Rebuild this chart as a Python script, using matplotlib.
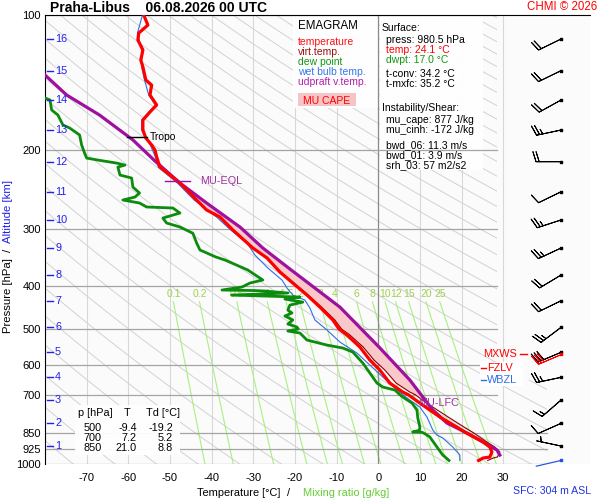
import numpy as np
import matplotlib.pyplot as plt
from matplotlib.patches import Polygon, Rectangle
from matplotlib.ticker import NullLocator

plt.rcParams['font.family'] = ['Liberation Sans', 'DejaVu Sans']

station = 'Praha-Libus'
run_time = '06.08.2026 00 UTC'

# ---- sounding values ----
temp_p = [100.0, 105.3, 109.7, 113.7, 119.6, 126.0, 130.5, 139.5, 143.2, 150.7,
          158.6, 164.4, 171.3, 180.3, 187.8, 194.7, 199.8, 207.0, 218.0, 227.1,
          236.6, 258.1, 271.6, 281.6, 301.0, 330.1, 347.4, 373.3, 395.0, 420.1,
          446.8, 477.3, 500.0, 515.5, 548.3, 586.1, 617.0, 659.5, 690.6, 700.0,
          730.6, 784.8, 826.1, 850.0, 892.1, 915.3, 939.0, 963.5, 968.3, 980.5]
temp_t = [-56.3, -55.3, -57.5, -57.7, -56.5, -57.0, -56.5, -55.8, -54.4, -54.8,
          -53.2, -54.8, -56.5, -56.5, -55.8, -54.4, -53.6, -53.2, -52.4, -50.0,
          -47.6, -43.6, -41.2, -38.0, -34.9, -30.1, -26.7, -23.6, -20.5, -17.1,
          -14.0, -10.9, -9.4, -7.5, -4.4, -2.0, 0.4, 2.8, 5.9, 7.2,
          10.0, 14.8, 18.9, 21.0, 25.2, 26.8, 27.3, 26.8, 25.2, 24.1]
virt_t = [-56.2, -55.2, -57.4, -57.6, -56.4, -56.9, -56.4, -55.7, -54.3, -54.7,
          -53.1, -54.7, -56.4, -56.4, -55.7, -54.3, -53.5, -53.1, -52.3, -49.9,
          -47.5, -43.5, -41.1, -37.9, -34.8, -29.9, -26.5, -23.4, -20.2, -16.8,
          -13.6, -10.4, -8.8, -6.8, -3.6, -1.0, 1.6, 4.3, 7.6, 8.9,
          11.6, 16.8, 20.6, 22.8, 26.1, 28.0, 29.2, 28.6, 27.6, 26.3]

dwpt_p = [153.0, 154.6, 162.7, 167.0, 175.7, 178.4, 184.9, 194.7, 202.9, 208.2,
          210.3, 213.6, 215.8, 218.0, 227.1, 230.6, 241.5, 249.0, 254.2, 258.1,
          262.1, 267.5, 268.9, 275.9, 283.1, 290.4, 296.4, 306.0, 321.7, 333.4,
          345.6, 351.0, 369.5, 388.9, 395.0, 403.1, 409.4, 410.5, 411.5, 415.7,
          420.1, 424.4, 428.8, 435.5, 442.2, 453.7, 460.5, 467.7, 477.3, 487.3,
          494.9, 500.0, 505.1, 510.3, 529.0, 542.8, 551.1, 562.6, 595.2, 626.5,
          659.5, 673.0, 683.5, 700.0, 708.5, 730.6, 757.1, 788.8, 826.1, 840.0,
          847.4, 848.5, 855.0, 869.5, 915.3, 953.6, 980.5]
dwpt_t = [-80.0, -78.8, -78.4, -76.9, -75.7, -74.1, -71.7, -71.2, -70.5, -70.0,
          -67.3, -62.8, -60.8, -62.5, -62.0, -59.2, -58.9, -57.3, -58.4, -61.3,
          -57.3, -55.6, -49.3, -47.6, -51.7, -50.8, -47.6, -44.5, -43.6, -42.8,
          -39.0, -36.8, -31.3, -27.7, -30.8, -32.7, -37.5, -29.6, -27.2, -21.7,
          -35.2, -18.8, -22.4, -18.1, -21.2, -21.7, -20.7, -22.4, -20.5, -21.7,
          -19.5, -19.2, -21.7, -18.8, -17.1, -12.3, -8.5, -6.1, -3.7, -2.0,
          -0.3, 1.1, 4.0, 5.2, 5.9, 8.1, 9.3, 9.5, 10.0, 9.9,
          8.3, 10.5, 11.2, 12.4, 14.1, 15.5, 17.0]

wetb_p = [100.0, 109.7, 119.6, 130.5, 139.5, 150.7, 158.6, 171.3, 180.3, 194.7,
          207.0, 218.0, 236.6, 258.1, 281.6, 301.0, 321.7, 342.1, 365.7, 388.9,
          405.2, 420.1, 431.0, 449.0, 477.3, 502.5, 534.4, 565.5, 601.3, 639.5,
          683.5, 719.4, 745.7, 784.8, 838.7, 860.6, 874.0, 915.3, 953.6, 980.5]
wetb_t = [-56.6, -57.8, -56.8, -56.8, -56.1, -55.1, -53.5, -56.8, -56.8, -54.7,
          -53.5, -52.8, -48.2, -44.2, -38.8, -35.4, -31.5, -29.6, -26.5, -23.1,
          -21.9, -20.5, -17.6, -16.4, -15.2, -12.3, -9.2, -5.1, -2.0, 1.1,
          4.5, 7.6, 10.0, 11.7, 13.1, 14.1, 15.5, 17.9, 19.6, 19.6]

# MU parcel (updraft virtual temperature)
parc_p = [136.0, 150.7, 167.0, 189.7, 211.3, 236.6, 262.1, 296.4, 330.1, 367.6,
          446.8, 548.3, 649.4, 757.1, 809.3, 851.8, 892.1, 929.5, 953.6]
parc_t = [-80.0, -74.8, -66.9, -58.9, -53.6, -47.6, -41.2, -33.2, -27.7, -21.2,
          -9.2, 0.2, 7.6, 13.1, 16.5, 21.3, 25.2, 28.5, 29.2]

eql_p, lfc_p = 234.2, 730.6
tropo_p = 186.8
fzlv_p, wbzl_p, mxws_p = 610.6, 649.4, 568.4

# wind profile at altitude levels
km_levels = [16, 15, 14, 13, 12, 11, 10, 9, 8, 7, 6, 5, 4, 3, 2, 1]
km_press = [113.1, 133.0, 154.6, 180.3, 212.1, 247.4, 285.9, 330.1, 379.1, 432.5,
            495.7, 563.3, 640.4, 719.4, 810.6, 910.7]
wind_dir = [244, 244, 241, 258, 270, 244, 252, 245, 239, 244, 233, 247, 258, 229, 246, 282]
wind_spd = [20, 20, 20, 25, 20, 10, 25, 25, 20, 20, 25, 30, 25, 15, 10, 5]
mxws_dir, mxws_spd = 247, 30
sfc_p, sfc_dir = 980.5, 257

p_ticks = [100, 200, 300, 400, 500, 600, 700, 850, 925, 1000]
t_ticks = [-70, -60, -50, -40, -30, -20, -10, 0, 10, 20, 30]
mix_ratios = [0.1, 0.2, 0.5, 1, 1.5, 2, 3, 4, 6, 8, 10, 12, 15, 20, 25]

table_p = [500, 700, 850]
table_t = [-9.4, 7.2, 21.0]
table_td = [-19.2, 5.2, 8.8]

surface_lines = [("press: 980.5 hPa", 'black'), ("temp: 24.1 °C", 'red'),
                 ("dwpt: 17.0 °C", '#119911')]
conv_lines = ["t-conv: 34.2 °C", "t-mxfc: 35.2 °C"]
inst_lines = ["mu_cape: 877 J/kg", "mu_cinh: -172 J/kg"]
shear_lines = ["bwd_06: 11.3 m/s", "bwd_01: 3.9 m/s", "srh_03: 57 m2/s2"]
legend_items = [("temperature", '#ff1010'), ("virt.temp.", '#9a1010'),
                ("dew point", '#119911'), ("wet bulb temp.", '#3377ee'),
                ("udpraft v.temp.", '#b020b0')]

RED = '#ff0000'
GREEN = '#0c8c0c'
BLUE_KM = '#2020f0'
PURPLE = '#a010a0'
MIXCOL = '#a8f080'

W, H = 600, 500
fig = plt.figure(figsize=(6, 5), dpi=100)
ax = fig.add_axes([45 / W, 1 - 464.3 / H, 545 / W, 449.3 / H])
ax.set_facecolor('#fbfbfb')
ax.set_yscale('log')
ax.set_ylim(1000, 100)
ax.set_xlim(-80, 50.85)


def fx(px):
    return px / W


def fy(py):
    return 1 - py / H


def ftext(x, y, s, **kw):
    kw.setdefault('va', 'center')
    return fig.text(fx(x), fy(y), s, **kw)


def frect(x0, y0, x1, y1, **kw):
    r = Rectangle((fx(x0), fy(y1)), (x1 - x0) / W, (y1 - y0) / H,
                  transform=fig.transFigure, **kw)
    ax.add_patch(r)
    return r


# background grid: isotherms, isobars, dry adiabats, mixing ratio lines
for t in t_ticks:
    if t == 0:
        ax.plot([t, t], [1000, 100], color='#8a8a8a', lw=0.9, zorder=2)
    else:
        ax.plot([t, t], [1000, 100], color='#d8d8d8', lw=0.8, zorder=1)

for p in p_ticks:
    t_end = 40.5 if p >= 850 else 28.6
    ax.plot([-80, t_end], [p, p], color='#a4a4a4', lw=0.9, zorder=2)

clip = Polygon([(-80, 100), (28.6, 100), (28.6, 650), (40.5, 650), (40.5, 1000), (-80, 1000)],
               closed=True, transform=ax.transData, fill=False, visible=False)
ax.add_patch(clip)
pp = np.geomspace(100, 1000, 80)
for theta in range(200, 600, 10):
    line, = ax.plot(theta * (pp / 1000) ** 0.2857 - 273.15, pp, color='#d2d2d2', lw=0.7, zorder=1)
    line.set_clip_path(clip)


def dew_from_w(w, p):
    e = w * p / (622.0 + w)
    a = np.log(e / 6.112)
    return 243.5 * a / (17.67 - a)


pw = np.geomspace(435, 1000, 30)
for w in mix_ratios:
    ax.plot(dew_from_w(w, pw), pw, color=MIXCOL, lw=0.8, zorder=1)
    ax.text(dew_from_w(w, 435), 418, f"{w:g}", color='#9fd050', fontsize=7.5,
            ha='center', va='center', zorder=1)

# boxes behind legends (cover thin grid, not the isobars)
frect(293, 15, 378, 108, facecolor='white', edgecolor='none', alpha=0.95, zorder=1.5)
frect(380, 15, 483, 170, facecolor='white', edgecolor='none', alpha=0.95, zorder=1.5)

# CAPE area between parcel and virtual temperature
pa = np.array(parc_p); ta = np.array(parc_t)
pe = np.array(temp_p); te = np.array(virt_t)
mp = (pa >= 236.6) & (pa <= lfc_p)
me = (pe >= 236.6) & (pe <= lfc_p)
verts = list(zip(ta[mp], pa[mp])) + list(zip(te[me][::-1], pe[me][::-1]))
ax.add_patch(Polygon(verts, closed=True, facecolor='#f9c8c8', edgecolor='none', zorder=2.5))

# profiles
ax.plot(virt_t, temp_p, color='#8b0000', lw=0.8, zorder=3)
ax.plot(wetb_t, wetb_p, color='#2f6fe8', lw=0.8, zorder=3)
ax.plot(dwpt_t, dwpt_p, color=GREEN, lw=2.0, zorder=4)
ax.plot(parc_t, parc_p, color=PURPLE, lw=2.3, zorder=4.5)
ax.plot(temp_t, temp_p, color=RED, lw=2.3, zorder=5)

# level markers
ax.plot([-60.4, -55.6], [tropo_p, tropo_p], color='black', lw=1, zorder=6)
ax.text(-54.8, tropo_p, "Tropo", fontsize=7.5, va='center', zorder=6)
ax.plot([-51.2, -45.2], [eql_p, eql_p], color=PURPLE, lw=1, zorder=6)
ax.text(-42.8, eql_p, "MU-EQL", fontsize=7.8, color='#a030a0', va='center', zorder=6)
ax.text(9.5, lfc_p, "MU-LFC", fontsize=7.8, color='#a030a0', va='center', zorder=6)

frect(480, 362, 523, 386, facecolor='white', edgecolor='none', zorder=6)
ax.plot([24.7, 25.9], [fzlv_p, fzlv_p], color=RED, lw=1, zorder=7)
ax.text(26.1, fzlv_p, "FZLV", fontsize=7.8, color=RED, va='center', zorder=7)
ax.plot([24.7, 25.9], [wbzl_p, wbzl_p], color='#2f6fe8', lw=1, zorder=7)
ax.text(26.1, wbzl_p, "WBZL", fontsize=7.8, color='#2f6fe8', va='center', zorder=7)
ax.plot([34.0, 35.7], [mxws_p, mxws_p], color=RED, lw=1, zorder=7, clip_on=False)
ax.text(33.3, mxws_p, "MXWS", fontsize=7.8, color=RED, ha='right', va='center', zorder=7)

# wind barbs column
barb_t = 43.9
barb_len = 6.0
d = np.deg2rad(wind_dir)
u = -np.array(wind_spd) * np.sin(d)
v = -np.array(wind_spd) * np.cos(d)
ax.barbs(np.full(len(km_press), barb_t), km_press, u, v, length=barb_len, linewidth=0.7,
         color='black', zorder=7, clip_on=False)
ax.scatter(np.full(len(km_press), barb_t), km_press, marker='s', s=4, color='black',
           zorder=8, clip_on=False)
dm = np.deg2rad(mxws_dir)
ax.barbs([barb_t], [mxws_p], [-mxws_spd * np.sin(dm)], [-mxws_spd * np.cos(dm)],
         length=barb_len, linewidth=0.7, color=RED, zorder=7.5, clip_on=False)
ax.scatter([barb_t], [mxws_p], marker='s', s=4, color=RED, zorder=8, clip_on=False)
ds = np.deg2rad(sfc_dir)
ax.quiver([barb_t], [sfc_p], [26 * np.sin(ds)], [26 * np.cos(ds)], angles='uv',
          scale_units='dots', scale=1, units='dots', width=1.2, headwidth=0,
          headlength=0, headaxislength=0, color='#2255dd', zorder=7, clip_on=False)
ax.scatter([barb_t], [sfc_p], marker='s', s=4, color='#2255dd', zorder=8, clip_on=False)

# altitude labels on the pressure axis
ytr = ax.get_yaxis_transform()
for km, p in zip(km_levels, km_press):
    ax.plot([0.0037, 0.0147], [p, p], color=BLUE_KM, lw=1, transform=ytr, zorder=6)
    ax.text(0.0185, p, str(km), color=BLUE_KM, fontsize=7.8, va='center',
            transform=ytr, zorder=6)

# axes cosmetics
ax.set_yticks(p_ticks)
ax.set_yticklabels([str(p) for p in p_ticks])
ax.yaxis.set_minor_locator(NullLocator())
ax.set_xticks(t_ticks)
ax.set_xticklabels([str(t) for t in t_ticks])
ax.tick_params(axis='y', length=0, labelsize=8.0, pad=3)
ax.tick_params(axis='x', length=0, labelsize=8.0, pad=6)
ax.spines['right'].set_visible(False)
ax.spines['bottom'].set_visible(False)
ax.spines['top'].set_color('black')
ax.spines['left'].set_color('black')

# legend box
ftext(298, 26, "EMAGRAM", fontsize=8.3)
for i, (s, c) in enumerate(legend_items):
    ftext(298, 42 + 10 * i, s, fontsize=7.5, color=c)
r = Rectangle((fx(298), fy(106)), 58 / W, 13 / H, transform=fig.transFigure,
              facecolor='#f6c4c4', edgecolor='none')
fig.add_artist(r)
ftext(327, 100.5, "MU CAPE", fontsize=7.5, color=RED, ha='center')

# surface / instability box
ftext(382, 28, "Surface:", fontsize=7.5)
for i, (s, c) in enumerate(surface_lines):
    ftext(386, 40 + 10 * i, s, fontsize=7.5, color=c)
for i, s in enumerate(conv_lines):
    ftext(386, 74 + 10 * i, s, fontsize=7.5)
ftext(382, 108, "Instability/Shear:", fontsize=7.5)
for i, s in enumerate(inst_lines):
    ftext(386, 120 + 10 * i, s, fontsize=7.5)
for i, s in enumerate(shear_lines):
    ftext(386, 145 + 10 * i, s, fontsize=7.5)

# small table
frect(75, 405, 180, 455, facecolor='white', edgecolor='none', alpha=0.95, zorder=6)
ftext(95, 413, "p [hPa]", fontsize=7.8, ha='center')
ftext(127, 413, "T", fontsize=7.8, ha='center')
ftext(163.5, 413, "Td [°C]", fontsize=7.8, ha='center')
for i, (p, t, td) in enumerate(zip(table_p, table_t, table_td)):
    yy = 428 + 10 * i
    ftext(93, yy, str(p), fontsize=7.8, ha='center')
    ftext(137, yy, f"{t:.1f}", fontsize=7.8, ha='right')
    ftext(173, yy, f"{td:.1f}", fontsize=7.8, ha='right')

# titles and axis labels
ftext(50, 7.5, f"{station}    {run_time}", fontsize=10, fontweight='bold')
ftext(597, 7.5, "CHMI © 2026", fontsize=8.3, color=RED, ha='right')
ftext(8, 296, "Pressure [hPa]", fontsize=8.2, rotation=90, ha='center')
ftext(8, 250, "/", fontsize=8.2, rotation=90, ha='center')
ftext(8, 212, "Altitude [km]", fontsize=8.2, rotation=90, ha='center', color=BLUE_KM)
ftext(197, 493, "Temperature [°C]", fontsize=7.9)
ftext(287, 493, "/", fontsize=7.9)
ftext(303, 493, "Mixing ratio [g/kg]", fontsize=7.9, color='#66cc33')
ftext(513, 491, "SFC: 304 m ASL", fontsize=7.6, color='#2233dd')

fig.savefig('out.png', dpi=100, facecolor='white')
